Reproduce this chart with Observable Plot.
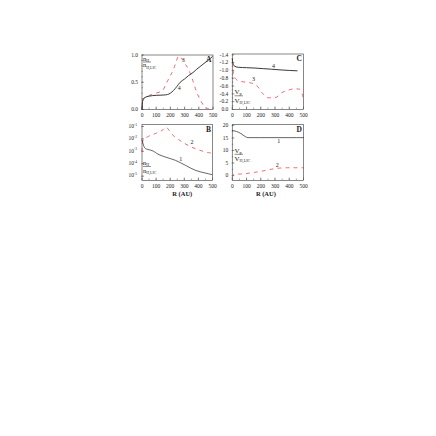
<!DOCTYPE html>
<html><head><meta charset="utf-8">
<script src="https://cdn.jsdelivr.net/npm/d3@7"></script>
<script src="https://cdn.jsdelivr.net/npm/@observablehq/plot@0.6"></script>
<style>
html,body{margin:0;padding:0;background:#fff;}
#wrap{position:relative;width:436px;height:436px;overflow:hidden;background:#fff;}
#wrap svg{position:absolute;left:0;top:0;}
</style></head><body><div id="wrap"></div>
<script>
// ---------- data ----------
const xMajor = [0, 100, 200, 300, 400, 500];
const xMinor = [0, 50, 100, 150, 200, 250, 300, 350, 400, 450, 500];

// Panel A : n_H / n_H,LIC
const rA4 = [0, 3, 8, 20, 50, 100, 150, 180, 200, 222, 245, 269, 300, 327, 360, 386, 415, 444, 470, 495];
const nA4 = [0, 0.12, 0.19, 0.22, 0.245, 0.26, 0.265, 0.275, 0.3, 0.35, 0.42, 0.5, 0.56, 0.62, 0.68, 0.74, 0.8, 0.86, 0.91, 0.97];
const rA3 = [0, 4, 12, 30, 63, 100, 145, 175, 200, 222, 240, 258, 280, 305, 327, 350, 385, 410, 432, 470];
const nA3 = [0.02, 0.12, 0.19, 0.23, 0.27, 0.3, 0.35, 0.5, 0.62, 0.74, 0.87, 0.98, 0.93, 0.83, 0.74, 0.59, 0.32, 0.18, 0.08, 0.01];
const yMajorA = [0, 0.5, 1.0];
const yMinorA = [0, 0.1, 0.2, 0.3, 0.4, 0.5, 0.6, 0.7, 0.8, 0.9, 1.0];
const labelsA = [{x: 262, y: 0.4, t: "4"}, {x: 290, y: 0.9, t: "3"}];

// Panel B : n_H / n_H,LIC (log)
const rB1 = [0, 10, 24, 59, 83, 106, 165, 236, 307, 377, 448, 495];
const nB1 = [7.9e-3, 3.2e-3, 1.7e-3, 1.26e-3, 1.0e-3, 6.6e-4, 3.5e-4, 1.9e-4, 7.6e-5, 3.0e-5, 1.8e-5, 1.35e-5];
const rB2 = [0, 3, 10, 40, 104, 150, 170, 185, 207, 260, 300, 340, 395, 470, 495];
const nB2 = [1.0e-3, 4.0e-3, 8.9e-3, 1.48e-2, 3.0e-2, 5.6e-2, 9.3e-2, 6.3e-2, 2.8e-2, 8.9e-3, 4.5e-3, 2.5e-3, 1.4e-3, 7.9e-4, 7.1e-4];
const yMajorB = [1e-1, 1e-2, 1e-3, 1e-4, 1e-5];
const yMajorBExp = ["-1", "-2", "-3", "-4", "-5"];
const labelsB = [{x: 275, y: 2.5e-4, t: "1"}, {x: 354, y: 5.8e-3, t: "2"}];

// Panel C : V_p / V_H,LIC
const rC4 = [0, 5, 15, 42, 100, 160, 220, 277, 350, 455];
const vC4 = [-1.29, -1.18, -1.11, -1.08, -1.07, -1.06, -1.045, -1.03, -1.01, -0.99];
const rC3 = [0, 5, 19, 40, 92, 130, 170, 206, 230, 250, 300, 347, 397, 440, 470, 490, 500];
const vC3 = [-1.21, -1.0, -0.81, -0.74, -0.7, -0.68, -0.62, -0.44, -0.35, -0.3, -0.3, -0.43, -0.5, -0.53, -0.52, -0.4, -0.28];
const yMajorC = [0, -0.2, -0.4, -0.6, -0.8, -1.0, -1.2, -1.4];
const yMinorC = [0, -0.1, -0.2, -0.3, -0.4, -0.5, -0.6, -0.7, -0.8, -0.9, -1.0, -1.1, -1.2, -1.3, -1.4];
const labelsC = [{x: 289, y: -1.12, t: "4"}, {x: 148, y: -0.79, t: "3"}];

// Panel D : V_p / V_H,LIC
const rD1 = [0, 30, 60, 90, 110, 200, 300, 400, 500];
const vD1 = [18, 17.6, 16.8, 15.6, 15.15, 15.15, 15.15, 15.15, 15.15];
const rD2 = [0, 8, 60, 150, 230, 320, 400, 500];
const vD2 = [-0.6, 0.5, 0.6, 1.2, 2.0, 2.9, 3.1, 3.1];
const yMajorD = [0, 5, 10, 15, 20];
const yMinorD = [0, 2.5, 5, 7.5, 10, 12.5, 15, 17.5, 20];
const labelsD = [{x: 326, y: 13.8, t: "1"}, {x: 315, y: 4.3, t: "2"}];

// ---------- drawing ----------
const FONT = "'Liberation Serif', 'Times New Roman', serif";
const RED = "#ee3d50";
const INK = "#222";
const AX = "#555";
const zip = (xs, ys) => xs.map((x, i) => ({x, y: ys[i]}));

function panel(o) {
  const W = 436, H = 436;
  const svg = Plot.plot({
    width: W, height: H,
    marginLeft: o.left, marginRight: W - o.right, marginTop: o.top, marginBottom: H - o.bottom,
    style: {background: "transparent", fontFamily: FONT, fontSize: "5.5px", color: INK, overflow: "visible"},
    x: {domain: [0, 500]},
    y: {type: o.yType || "linear", domain: o.yDomain},
    marks: [
      Plot.axisX({ticks: xMinor, tickSize: -1.5, tickFormat: () => "", label: null, stroke: AX, strokeWidth: 0.5}),
      Plot.axisX({ticks: xMajor, tickSize: -2.5, tickFormat: () => "", label: null, stroke: AX, strokeWidth: 0.6}),
      Plot.axisX({ticks: xMajor, tickSize: 0, tickPadding: 4, tickFormat: d => String(d), label: null, fontSize: 5.5}),
      Plot.axisY({ticks: o.yMinor, tickSize: -1.5, tickFormat: () => "", label: null, stroke: AX, strokeWidth: 0.5}),
      Plot.axisY({ticks: o.yMajor, tickSize: -2.5, tickFormat: () => "", label: null, stroke: AX, strokeWidth: 0.6}),
      o.yFormat ? Plot.axisY({ticks: o.yMajor, tickSize: 0, tickPadding: 4, tickFormat: o.yFormat, label: null, fontSize: 5.5}) : null,
      Plot.frame({stroke: AX, strokeWidth: 0.7}),
      ...o.marks,
      Plot.text(o.labels, {x: "x", y: "y", text: "t", fontSize: 6, fill: INK}),
      Plot.text([o.letter], {frameAnchor: "top-right", dx: -1.5, dy: 2, lineAnchor: "top", textAnchor: "end", fontWeight: "bold", fontSize: 7.5, fill: INK}),
      o.xlabel ? Plot.text(["R (AU)"], {frameAnchor: "bottom", dx: o.xlabelDx, dy: 15, lineAnchor: "bottom", fontWeight: "bold", fontSize: 6.5, fill: INK}) : null
    ]
  });
  d3.select(svg).selectAll("text").filter(function () { return this.textContent === ""; }).remove();
  return svg;
}

function solid(xs, ys, w) { return Plot.line(zip(xs, ys), {x: "x", y: "y", stroke: INK, strokeWidth: w || 0.8, curve: "monotone-x"}); }
function dashed(xs, ys) { return Plot.line(zip(xs, ys), {x: "x", y: "y", stroke: RED, strokeWidth: 0.8, strokeDasharray: "3,5", curve: "monotone-x"}); }

function frac(svg, x, yNum, yLine, yDen, num, numSub, den, denSub, size, w) {
  const g = d3.select(svg).append("g").attr("font-family", FONT).attr("fill", INK).attr("text-anchor", "start");
  const t1 = g.append("text").attr("x", x).attr("y", yNum).attr("font-size", size).text(num);
  t1.append("tspan").attr("font-size", size * 0.6).attr("dy", 1.3).text(numSub);
  g.append("line").attr("x1", x).attr("x2", x + w).attr("y1", yLine).attr("y2", yLine).attr("stroke", INK).attr("stroke-width", 0.5);
  const t2 = g.append("text").attr("x", x).attr("y", yDen).attr("font-size", size).text(den);
  t2.append("tspan").attr("font-size", size * 0.6).attr("dy", 1.3).text(denSub);
}

const wrap = document.getElementById("wrap");

const pA = panel({
  left: 141.5, right: 212.5, top: 54.5, bottom: 109,
  yDomain: [0, 1.0], yMajor: yMajorA, yMinor: yMinorA, yFormat: d => d.toFixed(1),
  letter: "A", labels: labelsA,
  marks: [dashed(rA3, nA3), solid(rA4, nA4, 0.9)]
});
wrap.appendChild(pA);
frac(pA, 143, 60.5, 62, 67.3, "n", "H", "n", "H,LIC", 6.5, 8);

const pC = panel({
  left: 231.8, right: 303, top: 53.5, bottom: 109,
  yDomain: [0, -1.42], yMajor: yMajorC, yMinor: yMinorC, yFormat: d => d.toFixed(1),
  letter: "C", labels: labelsC,
  marks: [dashed(rC3, vC3), solid(rC4, vC4, 0.9)]
});
wrap.appendChild(pC);
frac(pC, 234.5, 93.7, 95.8, 103, "V", "p", "V", "H,LIC", 7, 8.5);

const pB = panel({
  left: 141.5, right: 212, top: 124, bottom: 180,
  yType: "log", yDomain: [4.47e-6, 0.1445], yMajor: yMajorB, yMinor: yMajorB, yFormat: null,
  letter: "B", labels: labelsB, xlabel: true, xlabelDx: 5,
  marks: [dashed(rB2, nB2), solid(rB1, nB1, 0.7)]
});
wrap.appendChild(pB);
frac(pB, 143, 165, 166.5, 172.5, "n", "H", "n", "H,LIC", 6.5, 8);
{
  const ys = pB.scale("y");
  const g = d3.select(pB).append("g").attr("font-family", FONT).attr("fill", INK).attr("text-anchor", "end");
  yMajorB.forEach((v, i) => {
    const t = g.append("text").attr("x", 141.5 - 4.5).attr("y", ys.apply(v) + 1.8).attr("font-size", 5.5).text("10");
    t.append("tspan").attr("font-size", 3.6).attr("dy", -2.2).text(yMajorBExp[i]);
  });
}

const pD = panel({
  left: 231.8, right: 303, top: 124, bottom: 180,
  yDomain: [-2, 20.4], yMajor: yMajorD, yMinor: yMinorD, yFormat: d => String(d),
  letter: "D", labels: labelsD, xlabel: true, xlabelDx: -2,
  marks: [dashed(rD2, vD2), solid(rD1, vD1, 0.7)]
});
wrap.appendChild(pD);
frac(pD, 234.5, 152.5, 154.3, 160.8, "V", "p", "V", "H,LIC", 7, 8.5);
</script></body></html>
